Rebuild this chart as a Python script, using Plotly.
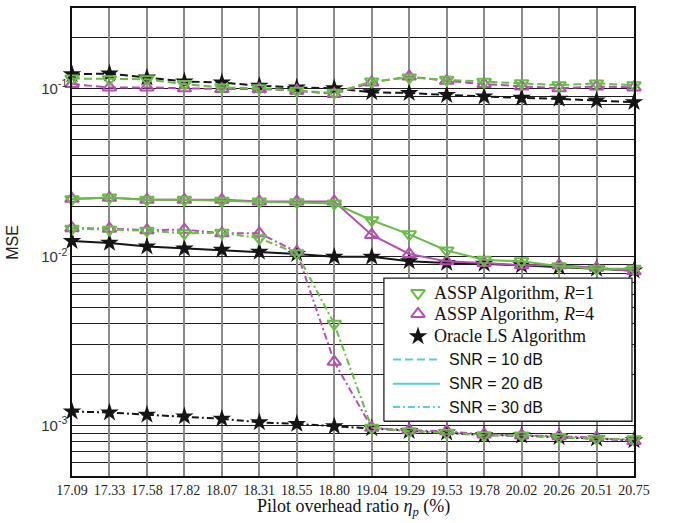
import plotly.graph_objects as go

eta = ["17.09", "17.33", "17.58", "17.82", "18.07", "18.31", "18.55", "18.80",
       "19.04", "19.29", "19.53", "19.78", "20.02", "20.26", "20.51", "20.75"]

mse_r1_snr10 = [0.1144, 0.1133, 0.1133, 0.1060, 0.1013, 0.1000, 0.0969, 0.0941,
                0.1099, 0.1160, 0.1124, 0.1094, 0.1074, 0.1045, 0.1070, 0.1045]
mse_r4_snr10 = [0.1060, 0.1013, 0.1013, 0.1000, 0.0991, 0.0991, 0.0969, 0.0926,
                0.1084, 0.1176, 0.1109, 0.1060, 0.1027, 0.1000, 0.1027, 0.1013]
mse_ls_snr10 = [0.1212, 0.1224, 0.1160, 0.1099, 0.1084, 0.1037, 0.1013, 0.1000,
                0.0948, 0.0939, 0.0914, 0.0894, 0.0878, 0.0866, 0.0847, 0.0828]

mse_r1_snr20 = [0.0220, 0.0225, 0.0218, 0.0218, 0.0215, 0.0213, 0.0211, 0.0207,
                0.0165, 0.0136, 0.0109, 0.0096, 0.0094, 0.0088, 0.0085, 0.0085]
mse_r4_snr20 = [0.0221, 0.0224, 0.0218, 0.0218, 0.0218, 0.0213, 0.0213, 0.0213,
                0.0135, 0.0104, 0.0094, 0.0092, 0.0089, 0.0089, 0.0086, 0.0082]
mse_ls_snr20 = [0.0124, 0.0121, 0.0115, 0.0112, 0.0110, 0.0107, 0.0104, 0.0100,
                0.0100, 0.0094, 0.0092, 0.0091, 0.0089, 0.0087, 0.0085, 0.0083]

mse_r1_snr30 = [0.0147, 0.0145, 0.0143, 0.0138, 0.0139, 0.0129, 0.0105, 0.0040,
                0.000966, 0.000922, 0.000903, 0.000874, 0.000871, 0.000851, 0.000833, 0.000825]
mse_r4_snr30 = [0.0148, 0.0147, 0.0144, 0.0145, 0.0138, 0.0138, 0.0107, 0.00238,
                0.000966, 0.000935, 0.000922, 0.000882, 0.000871, 0.000862, 0.000844, 0.000806]
mse_ls_snr30 = [0.001207, 0.001191, 0.001155, 0.001129, 0.001094, 0.001041, 0.001019, 0.000987,
                0.000960, 0.000925, 0.000905, 0.000875, 0.000868, 0.000852, 0.000835, 0.000815]

y_tick_vals = [1e-3, 1e-2, 1e-1]
y_tick_text = ["10<sup>-3</sup>", "10<sup>-2</sup>", "10<sup>-1</sup>"]

legend_marker_labels = ["ASSP Algorithm, <i>R</i>=1", "ASSP Algorithm, <i>R</i>=4", "Oracle LS Algorithm"]
legend_line_labels = ["SNR = 10 dB", "SNR = 20 dB", "SNR = 30 dB"]

GREEN = "#68bd45"
MAGENTA = "#b54eb1"
BLACK = "#151515"
CYAN = "#5cc9e0"
DASH = "8px,4px"
DASHDOT = "7px,3px,2px,3px"

fig = go.Figure()

styles = {
    "ls": dict(color=BLACK, symbol="star", size=14, mline=0),
    "r4": dict(color=MAGENTA, symbol="triangle-up-open", size=12, mline=2),
    "r1": dict(color=GREEN, symbol="triangle-down-open", size=12, mline=2),
}
series = [
    ("ls", mse_ls_snr10, DASH), ("ls", mse_ls_snr20, "solid"), ("ls", mse_ls_snr30, DASHDOT),
    ("r4", mse_r4_snr10, DASH), ("r4", mse_r4_snr20, "solid"), ("r4", mse_r4_snr30, DASHDOT),
    ("r1", mse_r1_snr10, DASH), ("r1", mse_r1_snr20, "solid"), ("r1", mse_r1_snr30, DASHDOT),
]
for key, vals, dash in series:
    s = styles[key]
    fig.add_trace(go.Scatter(
        x=eta, y=vals, mode="lines+markers", showlegend=False, cliponaxis=False,
        line=dict(color=s["color"], width=2, dash=dash),
        marker=dict(symbol=s["symbol"], size=s["size"], color=s["color"],
                    line=dict(color=s["color"], width=s["mline"])),
    ))

# Custom legend on an overlay axis (0..1 over the plot area)
bx0, bx1, by0, by1 = 0.555, 0.9964, 0.117, 0.423
fig.add_trace(go.Scatter(
    x=[bx0, bx1, bx1, bx0, bx0], y=[by0, by0, by1, by1, by0], xaxis="x2", yaxis="y2",
    mode="lines", fill="toself", fillcolor="white", line=dict(color="#222", width=1.3),
    showlegend=False, hoverinfo="skip"))
mk_y = [0.3909, 0.3462, 0.2985]
for (key, yy) in zip(["r1", "r4", "ls"], mk_y):
    s = styles[key]
    fig.add_trace(go.Scatter(
        x=[0.6157], y=[yy], xaxis="x2", yaxis="y2", mode="markers", showlegend=False,
        marker=dict(symbol=s["symbol"], size=s["size"], color=s["color"],
                    line=dict(color=s["color"], width=s["mline"]))))
ln_y = [0.2489, 0.1972, 0.1474]
for dash, yy in zip([DASH, "solid", DASHDOT], ln_y):
    fig.add_trace(go.Scatter(
        x=[0.571, 0.655], y=[yy, yy], xaxis="x2", yaxis="y2", mode="lines", showlegend=False,
        line=dict(color=CYAN, width=2, dash=dash)))

annotations = []
for txt, yy in zip(legend_marker_labels, mk_y):
    annotations.append(dict(x=0.640, y=yy, xref="paper", yref="paper", text=txt, showarrow=False,
                            xanchor="left", yanchor="middle",
                            font=dict(family="Liberation Serif", size=18, color="#111")))
for txt, yy in zip(legend_line_labels, ln_y):
    annotations.append(dict(x=0.667, y=yy, xref="paper", yref="paper", text=txt, showarrow=False,
                            xanchor="left", yanchor="middle",
                            font=dict(family="Liberation Sans", size=16, color="#111")))
annotations.append(dict(x=0.5, y=-0.068, xref="paper", yref="paper",
                        text="Pilot overhead ratio <i>η</i><sub><i>p</i></sub> (%)", showarrow=False,
                        xanchor="center", yanchor="middle",
                        font=dict(family="Liberation Serif", size=18, color="#111")))
annotations.append(dict(x=-0.107, y=0.5, xref="paper", yref="paper", text="MSE", textangle=-90,
                        showarrow=False, xanchor="center", yanchor="middle",
                        font=dict(family="Liberation Sans", size=16, color="#222")))

minor_vals = [k * 10.0 ** e for e in (-4, -3, -2, -1) for k in range(2, 10)]

fig.update_layout(
    width=674, height=523,
    margin=dict(l=72, r=40, t=6, b=47),
    paper_bgcolor="white", plot_bgcolor="white",
    showlegend=False,
    annotations=annotations,
    xaxis=dict(
        type="category", range=[0, len(eta) - 1],
        showgrid=True, gridcolor="#8a8a8a", gridwidth=1.5,
        showline=True, mirror=True, linecolor="#111", linewidth=1.5,
        ticks="", tickfont=dict(family="Liberation Serif", size=14, color="#222"),
        zeroline=False,
    ),
    yaxis=dict(
        type="log", range=[-3.30103, -0.52288],
        tickmode="array", tickvals=y_tick_vals, ticktext=y_tick_text,
        showgrid=True, gridcolor="#1e1e1e", gridwidth=1,
        minor=dict(tickmode="array", tickvals=minor_vals, showgrid=True,
                   gridcolor="#1e1e1e", gridwidth=1, ticks=""),
        showline=True, mirror=True, linecolor="#111", linewidth=1.5,
        ticks="", tickfont=dict(family="Liberation Sans", size=15, color="#333"),
        zeroline=False,
    ),
    xaxis2=dict(overlaying="x", anchor="y2", range=[0, 1], visible=False, fixedrange=True),
    yaxis2=dict(overlaying="y", anchor="x2", range=[0, 1], visible=False, fixedrange=True),
)

fig.write_html(
    "out.html",
    config={"displayModeBar": False},
    post_script="document.body.style.margin='0';document.body.style.overflow='hidden';",
)
